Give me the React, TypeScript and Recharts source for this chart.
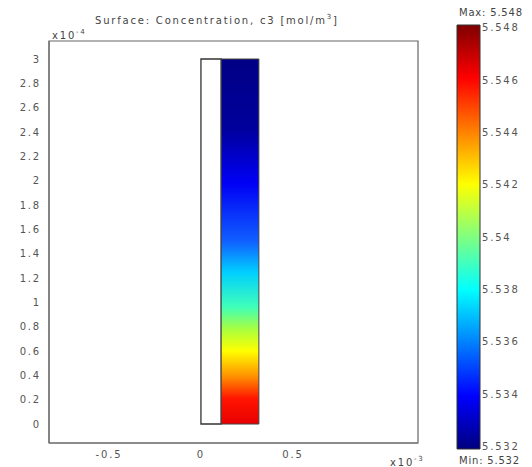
import {
  ComposedChart,
  XAxis,
  YAxis,
  ReferenceArea,
} from 'recharts'

// axis values are in units of 1e-3 (x) and 1e-4 (y)
const xDomain = [-0.826, 1.18]
const yDomain = [-0.156, 3.148]
const xTicks = [-0.5, 0, 0.5]
const yTicks = [0, 0.2, 0.4, 0.6, 0.8, 1, 1.2, 1.4, 1.6, 1.8, 2, 2.2, 2.4, 2.6, 2.8, 3]

// subdomains of the geometry
const membrane = { x1: 0, x2: 0.11, y1: 0, y2: 3 }
const channel = { x1: 0.11, x2: 0.315, y1: 0, y2: 3 }

// colour bar
const cMin = 5.5319
const cMax = 5.5481
const colorTicks = [5.532, 5.534, 5.536, 5.538, 5.54, 5.542, 5.544, 5.546, 5.548]
const maxLabel = 'Max: 5.548'
const minLabel = 'Min: 5.532'

// c3 along the channel, top -> bottom
const fieldStops = [
  { offset: 0, color: '#000085' },
  { offset: 0.19, color: '#00009c' },
  { offset: 0.34, color: '#0000f5' },
  { offset: 0.5, color: '#1060ff' },
  { offset: 0.585, color: '#00d0ff' },
  { offset: 0.68, color: '#40ffb8' },
  { offset: 0.74, color: '#a8ff40' },
  { offset: 0.8, color: '#ffff00' },
  { offset: 0.87, color: '#ff9000' },
  { offset: 0.93, color: '#ff1500' },
  { offset: 1, color: '#e80000' },
]

const jetStops = [
  { offset: 0, color: '#7f0000' },
  { offset: 0.125, color: '#ff0000' },
  { offset: 0.375, color: '#ffff00' },
  { offset: 0.5, color: '#80ff80' },
  { offset: 0.625, color: '#00ffff' },
  { offset: 0.875, color: '#0000ff' },
  { offset: 1, color: '#00007f' },
]

const barData = colorTicks.map((v) => ({ x: 0.5, y: v }))

const font = 'DejaVu Sans'
const tickStyle = { fontSize: 10, fill: '#555', fontFamily: font, letterSpacing: 1.8 }

export default function App() {
  return (
    <div style={{ position: 'absolute', left: 0, top: 0, width: 532, height: 467, background: '#fff' }}>
      <div style={{ position: 'absolute', left: 0, top: 0 }}>
        <ComposedChart width={532} height={467} margin={{ top: 41, right: 114, left: 9, bottom: 4 }}>
          <defs>
            <linearGradient id="field" x1="0" y1="0" x2="0" y2="1">
              {fieldStops.map((s) => (
                <stop key={s.offset} offset={s.offset} stopColor={s.color} />
              ))}
            </linearGradient>
          </defs>
          <XAxis
            type="number"
            dataKey="x"
            domain={xDomain}
            ticks={xTicks}
            allowDataOverflow
            height={20}
            tickLine={false}
            axisLine={{ stroke: '#666' }}
            tick={tickStyle}
          />
          <YAxis
            type="number"
            dataKey="y"
            domain={yDomain}
            ticks={yTicks}
            allowDataOverflow
            width={40}
            tickLine={false}
            axisLine={{ stroke: '#666' }}
            tick={tickStyle}
          />
          <ReferenceArea
            x1={xDomain[0]}
            x2={xDomain[1]}
            y1={yDomain[0]}
            y2={yDomain[1]}
            fill="none"
            stroke="#666"
            strokeWidth={1.2}
            ifOverflow="visible"
          />
          <ReferenceArea {...membrane} fill="#fff" fillOpacity={1} stroke="#333" strokeWidth={1.3} />
          <ReferenceArea {...channel} fill="url(#field)" fillOpacity={1} stroke="#444" strokeWidth={1} />
        </ComposedChart>
      </div>

      <div style={{ position: 'absolute', left: 0, top: 0 }}>
        <ComposedChart width={532} height={467} data={barData} margin={{ top: 25, right: 0, left: 457, bottom: 18 }}>
          <defs>
            <linearGradient id="jet" x1="0" y1="0" x2="0" y2="1">
              {jetStops.map((s) => (
                <stop key={s.offset} offset={s.offset} stopColor={s.color} />
              ))}
            </linearGradient>
          </defs>
          <XAxis type="number" dataKey="x" domain={[0, 1]} height={0} tick={false} tickLine={false} axisLine={false} />
          <YAxis
            type="number"
            dataKey="y"
            orientation="right"
            domain={[cMin, cMax]}
            ticks={colorTicks}
            allowDataOverflow
            width={52}
            tickSize={0}
            tickMargin={2}
            tickLine={false}
            axisLine={false}
            tick={tickStyle}
          />
          <ReferenceArea
            x1={0}
            x2={1}
            y1={cMin}
            y2={cMax}
            fill="url(#jet)"
            fillOpacity={1}
            stroke="#333"
            strokeWidth={1}
            ifOverflow="visible"
          />
        </ComposedChart>
      </div>

      <svg width={532} height={467} style={{ position: 'absolute', left: 0, top: 0, pointerEvents: 'none' }}>
        <g fontFamily={font} fontSize={10} fill="#444" letterSpacing={1.8}>
          <text x={95} y={24}>
            Surface: Concentration, c3 [mol/m<tspan dy={-5} fontSize={7}>3</tspan><tspan dy={5}>]</tspan>
          </text>
          <text x={52} y={39}>
            x10<tspan dy={-5} fontSize={7}>-4</tspan>
          </text>
          <text x={390} y={466}>
            x10<tspan dy={-5} fontSize={7}>-3</tspan>
          </text>
          <text x={459} y={16} letterSpacing={0.8}>{maxLabel}</text>
          <text x={459} y={464} letterSpacing={0.8}>{minLabel}</text>
        </g>
      </svg>
    </div>
  )
}
